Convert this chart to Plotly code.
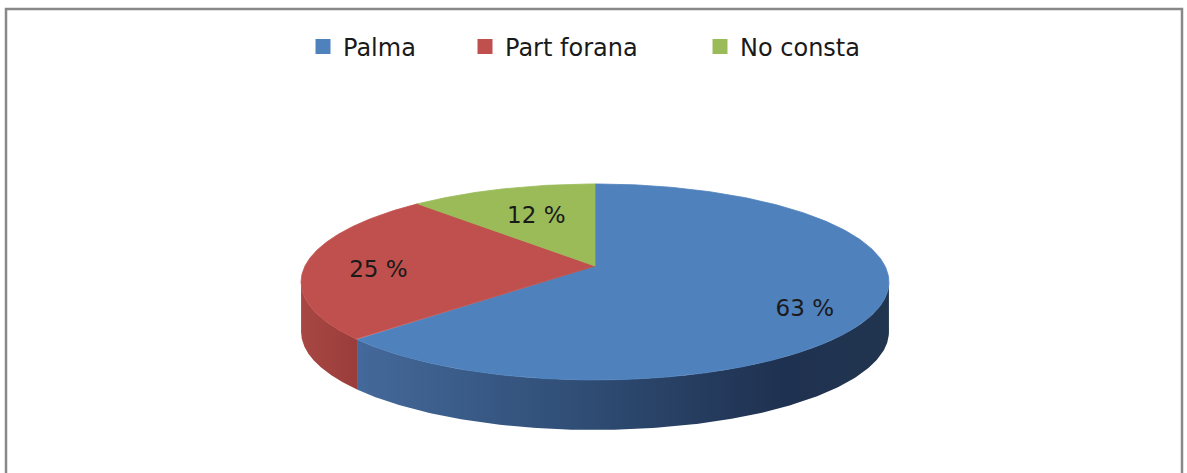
import numpy as np
import plotly.graph_objects as go

# ---- data ----
categories = ["Palma", "Part forana", "No consta"]
values = [63, 25, 12]
label_texts = ["63 %", "25 %", "12 %"]

# ---- style ----
top_colors = ["#4f81bd", "#c0504d", "#9bbb59"]
side_scales = [
    [[0, "#44699a"], [0.45, "#2e4b72"], [0.8, "#1f3150"], [1, "#21354f"]],
    [[0, "#a84744"], [1, "#9a3d3a"]],
    [[0, "#819c4a"], [1, "#7a9446"]],
]
label_r = [0.75, 0.75, 0.6]
label_nudge_px = [14, 7, 0]          # downward nudge of each label, px
legend_text_px = [343, 505, 740]     # left edge of each legend text, px
FONT = "DejaVu Sans"

W, H = 1187, 473
A_PX = 290.0          # pie radius in px (horizontal)
APEX_X, APEX_Y = 595.0, 266.0
K = 0.163             # perspective factor
B = 0.329             # vertical squash
DEPTH = 50.0 / A_PX   # side wall thickness


def proj(t_deg, r=1.0):
    t = np.radians(t_deg)
    w = 1 + K * r * np.cos(t)
    return r * np.sin(t) / w, B * r * np.cos(t) / w


total = float(sum(values))
cum = np.concatenate([[0.0], np.cumsum(values) / total * 360.0])

t_left = 180 + np.degrees(np.arccos(K))   # silhouette points of side wall
t_right = 180 - np.degrees(np.arccos(K))

fig = go.Figure()

# side walls
for i, cat in enumerate(categories):
    s0 = max(cum[i], t_right)
    s1 = min(cum[i + 1], t_left)
    if s1 <= s0:
        continue
    ts = np.linspace(s0, s1, 200)
    xs, ys = proj(ts)
    px = np.concatenate([xs, xs[::-1], xs[:1]])
    py = np.concatenate([ys, ys[::-1] - DEPTH, ys[:1]])
    fig.add_trace(go.Scatter(
        x=px, y=py, mode="lines", fill="toself", line=dict(width=0),
        fillgradient=dict(type="horizontal", colorscale=side_scales[i]),
        hoverinfo="skip", showlegend=False))

# top faces
for i, cat in enumerate(categories):
    ts = np.linspace(cum[i], cum[i + 1], 300)
    xs, ys = proj(ts)
    px = np.concatenate([[0.0], xs, [0.0]])
    py = np.concatenate([[0.0], ys, [0.0]])
    fig.add_trace(go.Scatter(
        x=px, y=py, mode="lines", fill="toself", fillcolor=top_colors[i],
        line=dict(width=0.8, color=top_colors[i]),
        hoverinfo="skip", showlegend=False))

# labels
lx, ly = [], []
for i in range(len(values)):
    mid = (cum[i] + cum[i + 1]) / 2
    x, y = proj(mid, label_r[i])
    lx.append(x)
    ly.append(y - label_nudge_px[i] / A_PX)
fig.add_trace(go.Scatter(
    x=lx, y=ly, mode="text", text=label_texts,
    textfont=dict(family=FONT, size=23, color="#1a1a1a"),
    hoverinfo="skip", showlegend=False))

# legend entries (one legend per entry to reproduce Excel spacing)
legend_names = ["legend", "legend2", "legend3"]
for i, cat in enumerate(categories):
    fig.add_trace(go.Scatter(
        x=[None], y=[None], mode="markers", name=cat, legend=legend_names[i],
        marker=dict(symbol="square", size=15, color=top_colors[i])))

xr = [-APEX_X / A_PX, (W - APEX_X) / A_PX]
yr = [-(H - APEX_Y) / A_PX, APEX_Y / A_PX]

layout_legends = {}
for i, ln in enumerate(legend_names):
    layout_legends[ln] = dict(
        orientation="h", x=(legend_text_px[i] - 40) / W, xanchor="left",
        y=1 - 47 / H, yanchor="middle",
        font=dict(family=FONT, size=24, color="#1a1a1a"),
        bgcolor="rgba(0,0,0,0)", borderwidth=0)

fig.update_layout(
    width=W, height=H, autosize=False,
    margin=dict(l=0, r=0, t=0, b=0),
    paper_bgcolor="white", plot_bgcolor="white",
    xaxis=dict(range=xr, visible=False, fixedrange=True),
    yaxis=dict(range=yr, visible=False, fixedrange=True),
    showlegend=True,
    shapes=[dict(type="rect", xref="paper", yref="paper",
                 x0=6 / W, x1=1182 / W, y0=-0.05, y1=1 - 9 / H,
                 line=dict(color="#888888", width=2.5), layer="above")],
    hovermode=False,
    **layout_legends,
)

fig.write_html("out.html", config={"displayModeBar": False},
               post_script="document.body.style.margin='0';")
